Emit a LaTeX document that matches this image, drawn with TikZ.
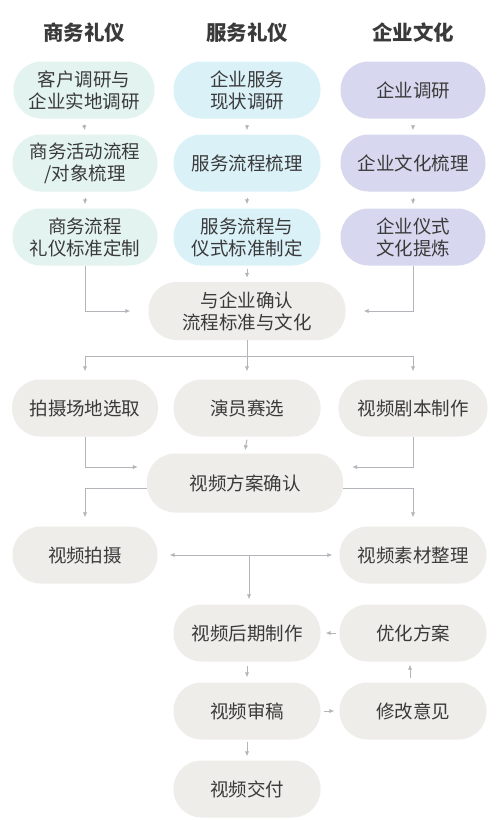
\documentclass[tikz,border=0pt]{standalone}
\usepackage{fontspec}
\setmainfont{Noto Sans CJK SC}
\newfontfamily\cjk{Noto Sans CJK SC}
\usetikzlibrary{arrows.meta,positioning,calc}
\definecolor{txt}{HTML}{3A3A3A}
\definecolor{mint}{HTML}{E3F3F0}
\definecolor{sky}{HTML}{DAF1F8}
\definecolor{lav}{HTML}{D7D8EF}
\definecolor{greybox}{HTML}{EFEDEA}
\definecolor{lin}{HTML}{B4B5BA}
\tikzset{
  x=1pt, y=-1pt,
  box/.style={rounded corners=28pt, minimum height=57pt, minimum width=145pt,
    align=center, text=txt, font=\cjk\fontsize{18.5}{22}\selectfont, inner sep=2pt},
  mbox/.style={box, fill=mint},
  sbox/.style={box, fill=sky},
  lbox/.style={box, fill=lav},
  gbox/.style={box, fill=greybox},
  head/.style={text=txt, font=\cjk\bfseries\fontsize{20.5}{24}\selectfont},
  ln/.style={draw=lin, line width=1pt},
  arr/.style={ln, -{Latex[length=5pt,width=4.5pt]}},
  darr/.style={ln, {Latex[length=5pt,width=4.5pt]}-{Latex[length=5pt,width=4.5pt]}},
}
\begin{document}
\begin{tikzpicture}
\useasboundingbox[fill=white] (0,0) rectangle (500,820);
% headers
\node[head] (h1) at (84,33) {商务礼仪};
\node[head] (h2) at (247,33) {服务礼仪};
\node[head] (h3) at (413,33) {企业文化};
% column boxes
\node[mbox, minimum width=141pt] (a1) at (84,90) {客户调研与\\企业实地调研};
\node[mbox] (a2) at (85,163) {商务活动流程\\/对象梳理};
\node[mbox] (a3) at (85,237) {商务流程\\礼仪标准定制};
\node[sbox, minimum width=147pt] (b1) at (247,90) {企业服务\\现状调研};
\node[sbox, minimum width=147pt] (b2) at (247,163) {服务流程梳理};
\node[sbox, minimum width=147pt] (b3) at (247,237) {服务流程与\\仪式标准制定};
\node[lbox] (c1) at (413,90) {企业调研};
\node[lbox] (c2) at (413,163) {企业文化梳理};
\node[lbox] (c3) at (413,237) {企业仪式\\文化提炼};
% confirm
\node[gbox, minimum width=197pt, minimum height=58pt] (conf) at (247,311) {与企业确认\\流程标准与文化};
% row 5
\node[gbox, minimum width=146pt] (p1) at (85,408) {拍摄场地选取};
\node[gbox, minimum width=147pt] (p2) at (247,408) {演员赛选};
\node[gbox, minimum width=149pt] (p3) at (413,408) {视频剧本制作};
% plan
\node[gbox, minimum width=196pt, minimum height=59pt] (plan) at (245,483) {视频方案确认};
% row 7
\node[gbox, minimum width=145pt] (s1) at (85,555) {视频拍摄};
\node[gbox, minimum width=147pt] (s2) at (413,555) {视频素材整理};
% rows 8-10
\node[gbox, minimum width=147pt] (post) at (247,633) {视频后期制作};
\node[gbox, minimum width=147pt] (opt) at (413,633) {优化方案};
\node[gbox, minimum width=147pt] (rev) at (247,711) {视频审稿};
\node[gbox, minimum width=147pt] (mod) at (413,711) {修改意见};
\node[gbox, minimum width=147pt] (del) at (247,789) {视频交付};
% short column arrows
\foreach \u/\v in {a1/a2,a2/a3,b1/b2,b2/b3,c1/c2,c2/c3}{
  \draw[arr] ([yshift=-6pt]\u.south) -- ([yshift=4pt]\v.north);
}
\draw[arr] ([yshift=-3pt]b3.south) -- ([yshift=4pt]conf.north);
\draw[arr] (a3.south) |- ([xshift=-18pt]conf.west);
\draw[arr] (c3.south) |- ([xshift=18pt]conf.east);
% split
\coordinate (sp) at (247,356);
\draw[ln] (conf.south) -- (sp);
\draw[arr] (sp) -| ([yshift=8pt]p1.north);
\draw[arr] (sp) -| ([yshift=8pt]p3.north);
\draw[arr] (sp) -- ([yshift=8pt]p2.north);
% to plan
\draw[arr] ([yshift=-3pt]p2.south) -- ([yshift=3pt]plan.north);
\draw[arr] (p1.south) |- ([xshift=-9pt,yshift=16pt]plan.west);
\draw[arr] (p3.south) |- ([xshift=9pt,yshift=16pt]plan.east);
% from plan
\draw[arr] ([yshift=-5pt]plan.west) -| ([yshift=9pt]s1.north);
\draw[arr] ([yshift=-5pt]plan.east) -| ([yshift=9pt]s2.north);
% row 7
\draw[darr] ([xshift=12pt]s1.east) -- ([xshift=-7pt]s2.west);
\coordinate (mid) at (249,555);
\draw[arr] (mid) -- ([xshift=2pt,yshift=5pt]post.north);
% lower loop
\draw[arr] ([xshift=-3pt]opt.west) -- ([xshift=5pt]post.east);
\draw[arr] ([yshift=-4pt]post.south) -- ([yshift=5pt]rev.north);
\draw[arr] ([xshift=3pt]rev.east) -- ([xshift=-5pt]mod.west);
\draw[arr] ([xshift=-3pt,yshift=4pt]mod.north) -- ([xshift=-3pt,yshift=-3pt]opt.south);
\draw[arr] ([yshift=-2pt]rev.south) -- ([yshift=4pt]del.north);
\end{tikzpicture}
\end{document}
